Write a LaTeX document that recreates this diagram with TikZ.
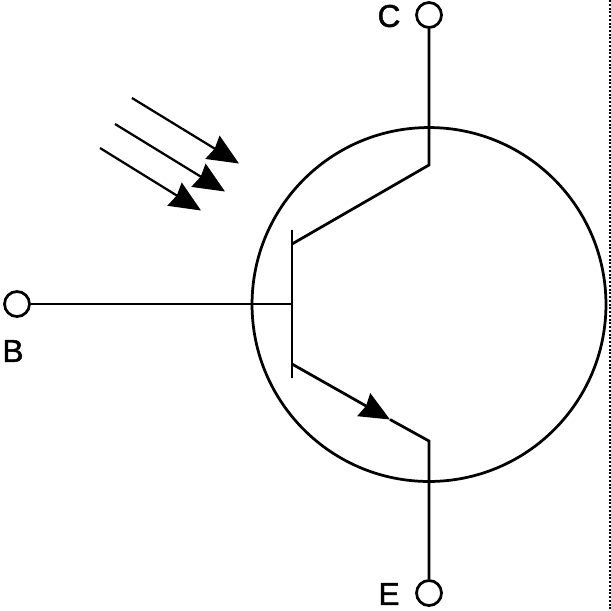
\documentclass[tikz,border=0pt]{standalone}
\usepackage{fontspec}
\setmainfont{Liberation Sans}
\newfontfamily\labelfont[FakeBold=1.5]{Liberation Sans}
\usetikzlibrary{arrows.meta, positioning}
\tikzset{
    terminal/.style={
        draw, circle, minimum size=0.5cm, inner sep=0pt, line width=0.055cm, fill=white
    },
    body/.style={
        draw, circle, minimum size=7.08cm, inner sep=0pt, line width=0.055cm
    },
    termlabel/.style={
        inner sep=0pt, font=\fontsize{18}{18}\selectfont\labelfont
    },
    wire/.style={
        line width=0.055cm, line join=miter
    },
    emitarrow/.style={
        line width=0.055cm, -{Stealth[length=0.6cm, width=0.52cm, inset=0.05cm]}
    },
    lightarrow/.style={
        line width=0.045cm, -{Stealth[length=0.62cm, width=0.54cm, inset=0.05cm]}
    },
    edgemark/.style={
        line width=0.025cm, dash pattern=on 0.04cm off 0.035cm
    }
}
\begin{document}
\begin{tikzpicture}[x=0.02cm, y=-0.02cm]

    \useasboundingbox (0,0) rectangle (611,610);

    % nodes
    \node (circ) [body] at (429,304.5) {};
    \node (collector) [terminal] at (429,15) {};
    \node (base) [terminal] at (17,304) {};
    \node (emitter) [terminal] at (429,593) {};
    \node (labelc) [termlabel] at (389,16) {C};
    \node (labelb) [termlabel] at (13,351) {B};
    \node (labele) [termlabel] at (389,594) {E};

    \coordinate (bartop) at (292,230);
    \coordinate (barbot) at (292,378);
    \coordinate (barmid) at (292,304);
    \coordinate (cjoin) at (292,244);
    \coordinate (ccorner) at (429,165);
    \coordinate (ejoin) at (292,364);
    \coordinate (etip) at (390,419.5);
    \coordinate (ecorner) at (429,441);

    \coordinate (ray1a) at (132,98);
    \coordinate (ray1b) at (239,163.5);
    \coordinate (ray2a) at (115,124);
    \coordinate (ray2b) at (225,191.5);
    \coordinate (ray3a) at (100,148);
    \coordinate (ray3b) at (201,210.5);
    \coordinate (edgetop) at (610,0);
    \coordinate (edgebot) at (610,610);

    % lines
    \draw [wire] (bartop) -- (barbot);
    \draw [wire] (base) -- (barmid);
    \draw [wire] (collector) -- (ccorner) -- (cjoin);
    \draw [wire] (emitter) -- (ecorner) -- (etip);
    \draw [emitarrow] (ejoin) -- (etip);

    % light
    \draw [lightarrow] (ray1a) -- (ray1b);
    \draw [lightarrow] (ray2a) -- (ray2b);
    \draw [lightarrow] (ray3a) -- (ray3b);

    \draw [edgemark] (edgetop) -- (edgebot);

\end{tikzpicture}
\end{document}
